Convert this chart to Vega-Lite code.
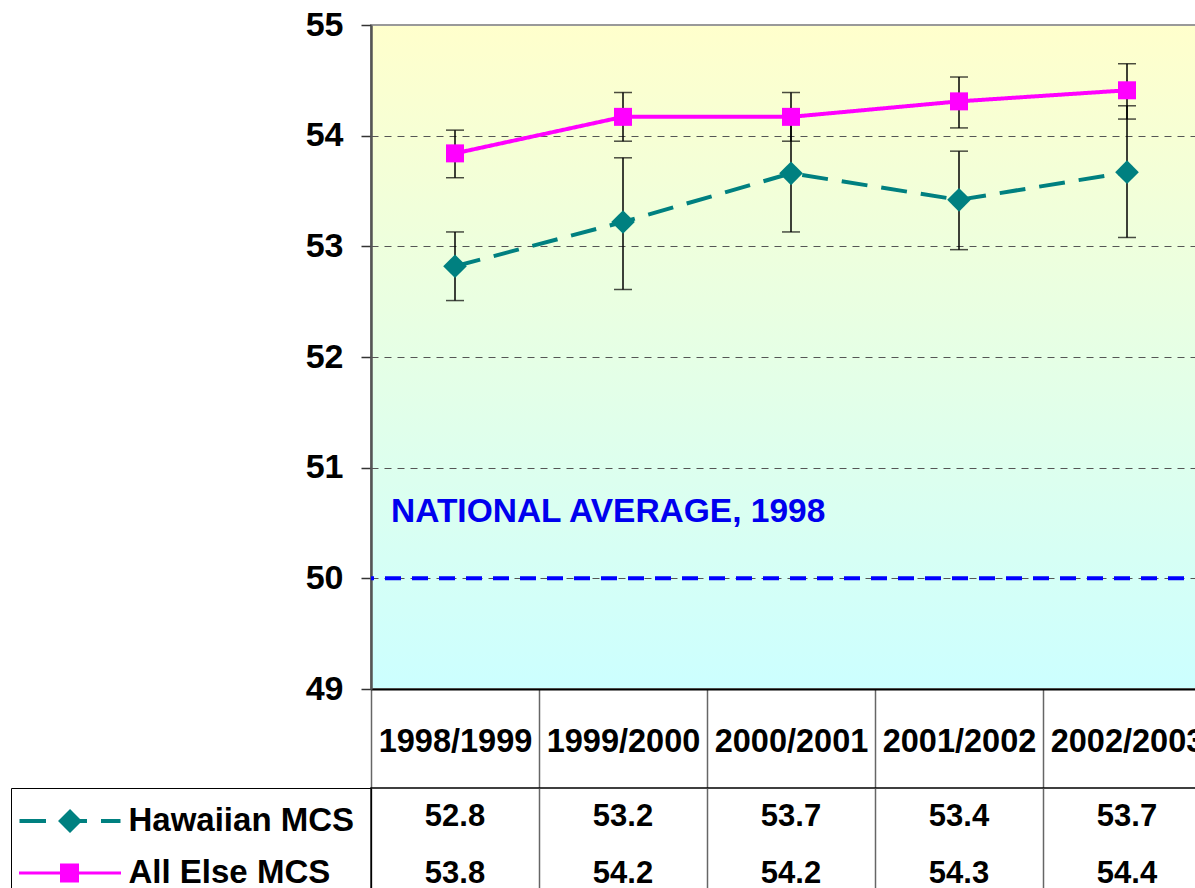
{
  "$schema": "https://vega.github.io/schema/vega-lite/v6.json",
  "padding": {"left": 9, "top": 7, "right": 0, "bottom": 0},
  "bounds": "flush",
  "spacing": 99,
  "config": {"font": "Liberation Sans"},
  "datasets": {
    "scores": [
      {"series": "Hawaiian MCS", "period": "1998/1999", "value": 52.82, "lo": 52.51, "hi": 53.13},
      {"series": "Hawaiian MCS", "period": "1999/2000", "value": 53.22, "lo": 52.61, "hi": 53.80},
      {"series": "Hawaiian MCS", "period": "2000/2001", "value": 53.66, "lo": 53.13, "hi": 54.19},
      {"series": "Hawaiian MCS", "period": "2001/2002", "value": 53.42, "lo": 52.97, "hi": 53.86},
      {"series": "Hawaiian MCS", "period": "2002/2003", "value": 53.67, "lo": 53.08, "hi": 54.27},
      {"series": "All Else MCS", "period": "1998/1999", "value": 53.84, "lo": 53.62, "hi": 54.05},
      {"series": "All Else MCS", "period": "1999/2000", "value": 54.17, "lo": 53.95, "hi": 54.39},
      {"series": "All Else MCS", "period": "2000/2001", "value": 54.17, "lo": 53.95, "hi": 54.39},
      {"series": "All Else MCS", "period": "2001/2002", "value": 54.31, "lo": 54.07, "hi": 54.53},
      {"series": "All Else MCS", "period": "2002/2003", "value": 54.41, "lo": 54.15, "hi": 54.65}
    ],
    "national": [
      {"label": "NATIONAL AVERAGE, 1998", "value": 50, "period": "1998/1999"}
    ]
  },
  "resolve": {"scale": {"color": "independent"}, "legend": {"color": "independent"}},
  "vconcat": [
    {
      "width": 840,
      "height": 664,
      "view": {
        "fill": {"gradient": "linear", "x1": 0, "y1": 0, "x2": 0, "y2": 1,
                 "stops": [{"offset": 0, "color": "#ffffcc"}, {"offset": 1, "color": "#ccffff"}]},
        "stroke": "#999999",
        "strokeWidth": 2
      },
      "layer": [
        {
          "data": {"name": "national"},
          "mark": {"type": "rule", "color": "#0000ff", "strokeWidth": 4, "strokeDash": [16, 11]},
          "encoding": {
            "y": {
              "field": "value", "type": "quantitative",
              "scale": {"domain": [49, 55], "nice": false, "zero": false},
              "axis": {
                "title": null, "values": [49, 50, 51, 52, 53, 54, 55], "format": "d",
                "grid": true,
                "gridColor": {"condition": {"test": "datum.value === 55 || datum.value === 49", "value": "transparent"}, "value": "#555555"},
                "gridDash": [7, 6], "gridWidth": 1,
                "tickSize": 10, "tickColor": "#333333", "tickWidth": 1.5,
                "domainColor": "#555555", "domainWidth": 2.5,
                "labelFontSize": 34, "labelFontWeight": "bold", "labelColor": "#000000",
                "labelPadding": 18, "labelFont": "Liberation Sans"
              }
            }
          }
        },
        {
          "data": {"name": "national"},
          "mark": {"type": "text", "align": "left", "baseline": "middle", "dx": 20, "dy": -66,
                   "fontSize": 33.5, "fontWeight": "bold", "color": "#0000ee", "font": "Liberation Sans"},
          "encoding": {
            "x": {"field": "period", "type": "nominal", "bandPosition": 0},
            "y": {"field": "value", "type": "quantitative"},
            "text": {"field": "label"}
          }
        },
        {
          "data": {"name": "scores"},
          "mark": {"type": "rule", "color": "#000000", "strokeWidth": 1.5},
          "encoding": {
            "x": {
              "field": "period", "type": "nominal", "sort": null,
              "scale": {"domain": ["1998/1999", "1999/2000", "2000/2001", "2001/2002", "2002/2003"], "paddingInner": 0, "paddingOuter": 0},
              "axis": {
                "orient": "bottom", "title": null, "tickBand": "extent", "tickSize": 99,
                "tickColor": "#666666", "tickWidth": 1.5,
                "domainColor": "#000000", "domainWidth": 2,
                "labelFontSize": 32.5, "labelFontWeight": "bold", "labelColor": "#000000",
                "labelAlign": "center", "labelBaseline": "middle", "labelPadding": -47, "labelAngle": 0,
                "labelOverlap": false, "labelFont": "Liberation Sans", "labelLimit": 400, "grid": false
              }
            },
            "y": {"field": "lo", "type": "quantitative"},
            "y2": {"field": "hi"}
          }
        },
        {
          "data": {"name": "scores"},
          "mark": {"type": "tick", "color": "#000000", "thickness": 1.5, "size": 18},
          "encoding": {
            "x": {"field": "period", "type": "nominal"},
            "y": {"field": "lo", "type": "quantitative"}
          }
        },
        {
          "data": {"name": "scores"},
          "mark": {"type": "tick", "color": "#000000", "thickness": 1.5, "size": 18},
          "encoding": {
            "x": {"field": "period", "type": "nominal"},
            "y": {"field": "hi", "type": "quantitative"}
          }
        },
        {
          "data": {"name": "scores"},
          "mark": {"type": "line", "strokeWidth": 4},
          "encoding": {
            "x": {"field": "period", "type": "nominal"},
            "y": {"field": "value", "type": "quantitative"},
            "color": {"field": "series", "type": "nominal",
                      "scale": {"domain": ["Hawaiian MCS", "All Else MCS"], "range": ["#008080", "#ff00ff"]}, "legend": null},
            "strokeDash": {"field": "series", "type": "nominal",
                           "scale": {"domain": ["Hawaiian MCS", "All Else MCS"], "range": [[26, 14], [1, 0]]}, "legend": null}
          }
        },
        {
          "data": {"name": "scores"},
          "mark": {"type": "point", "filled": true, "opacity": 1, "strokeWidth": 0},
          "encoding": {
            "x": {"field": "period", "type": "nominal"},
            "y": {"field": "value", "type": "quantitative"},
            "color": {"field": "series", "type": "nominal", "legend": null},
            "shape": {"field": "series", "type": "nominal",
                      "scale": {"domain": ["Hawaiian MCS", "All Else MCS"], "range": ["diamond", "square"]}, "legend": null},
            "size": {"field": "series", "type": "nominal",
                     "scale": {"domain": ["Hawaiian MCS", "All Else MCS"], "range": [560, 324]}, "legend": null}
          }
        }
      ]
    },
    {
      "width": 840,
      "height": 114.5,
      "view": {"stroke": "#000000", "strokeWidth": 1.5, "fill": null},
      "data": {"name": "scores"},
      "mark": {"type": "text", "fontSize": 31, "fontWeight": "bold", "baseline": "middle", "align": "center", "font": "Liberation Sans"},
      "encoding": {
        "x": {
          "field": "period", "type": "nominal", "sort": null,
          "scale": {"domain": ["1998/1999", "1999/2000", "2000/2001", "2001/2002", "2002/2003"], "paddingInner": 0, "paddingOuter": 0},
          "axis": {"grid": true, "tickBand": "extent", "labels": false, "ticks": false, "domain": false, "title": null,
                   "gridColor": "#666666", "gridWidth": 1.5}
        },
        "y": {
          "field": "series", "type": "nominal",
          "scale": {"domain": ["Hawaiian MCS", "All Else MCS"], "paddingInner": 0, "paddingOuter": 0.157},
          "axis": null
        },
        "text": {"field": "value", "type": "quantitative", "format": ".1f"},
        "color": {
          "condition": {
            "test": "false",
            "field": "series", "type": "nominal",
            "scale": {"domain": ["Hawaiian MCS", "All Else MCS"], "range": ["#008080", "#ff00ff"]},
            "legend": {
              "orient": "left", "offset": 0, "title": null, "padding": 16.5,
              "strokeColor": "#000000",
              "labelFontSize": 33, "labelFontWeight": "bold", "labelColor": "#000000", "labelFont": "Liberation Sans",
              "labelOffset": 68, "labelLimit": 400, "symbolSize": 1089, "rowPadding": 18, "symbolOpacity": 1,
              "encode": {
                "symbols": {
                  "update": {
                    "shape": {"signal": "datum.value === 'Hawaiian MCS' ? 'M-1.485,-0.121L0.121,-0.121L0.121,0.121L-1.485,0.121Z M1.03,-0.121L2.606,-0.121L2.606,0.121L1.03,0.121Z M3.455,-0.121L4.636,-0.121L4.636,0.121L3.455,0.121Z M1.576,-0.727L2.303,0L1.576,0.727L0.849,0Z' : 'M-1.515,-0.097L4.667,-0.097L4.667,0.097L-1.515,0.097Z M0.97,-0.576L2.121,-0.576L2.121,0.576L0.97,0.576Z'"},
                    "stroke": {"value": "transparent"},
                    "strokeWidth": {"value": 0},
                    "opacity": {"value": 1}
                  }
                }
              }
            }
          },
          "value": "#000000"
        }
      }
    }
  ]
}
